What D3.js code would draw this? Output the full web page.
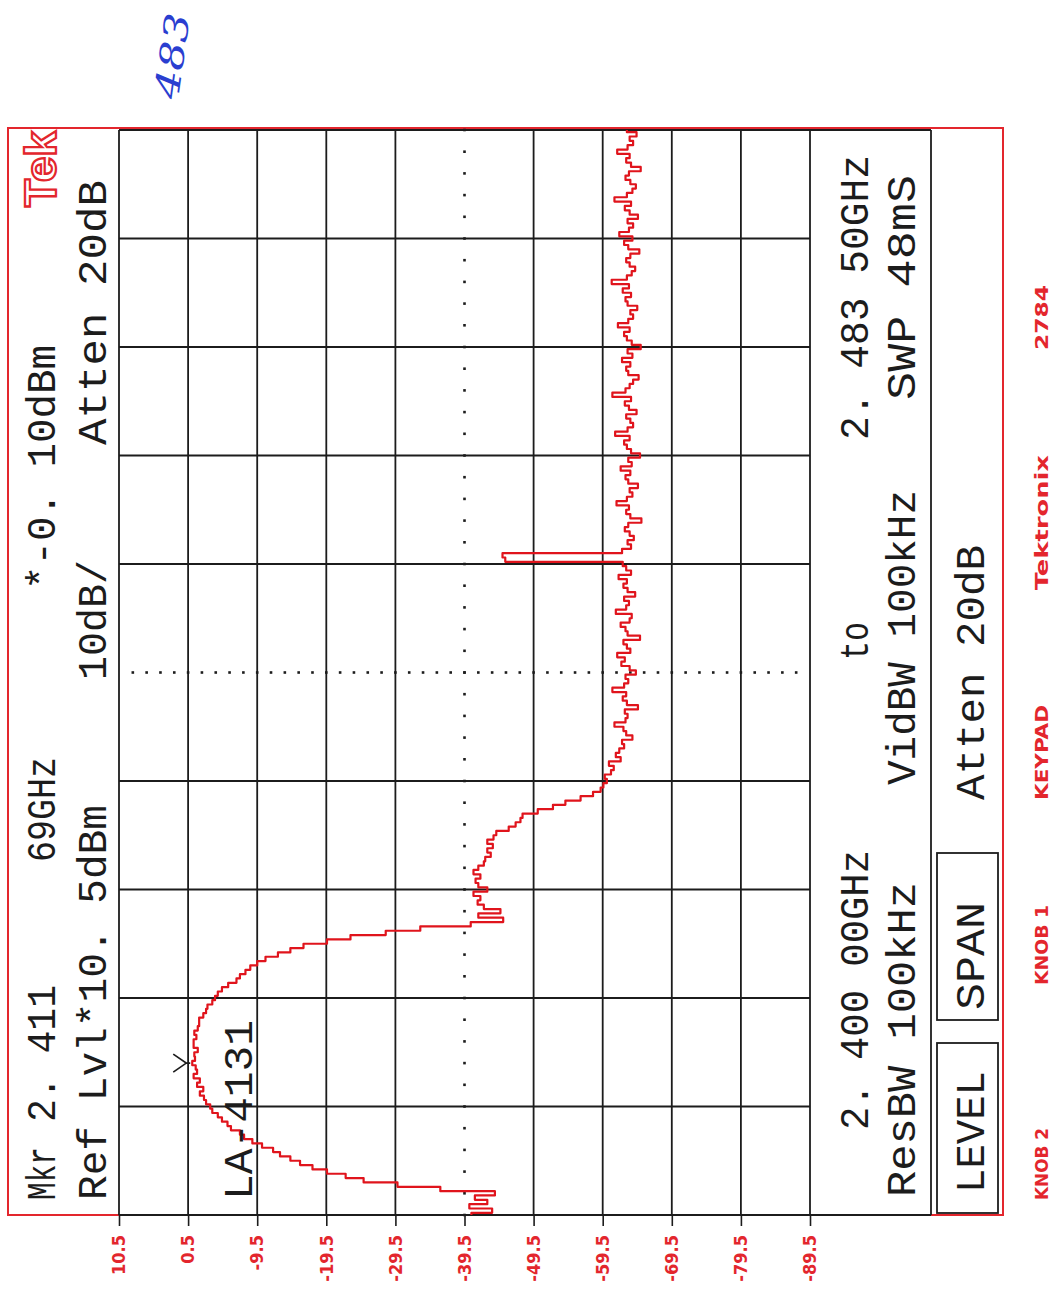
<!DOCTYPE html>
<html>
<head>
<meta charset="utf-8">
<script src="https://cdn.jsdelivr.net/npm/d3@7"></script>
<style>
  body { margin: 0; background: #fff; }
  svg { display: block; }
</style>
</head>
<body>
<script>
// Tektronix 2784 spectrum plot: 2.400 00 GHz to 2.483 50 GHz, Ref 10.5 dBm, 10 dB/div.
const sweepStartGHz = 2.400;
const sweepStopGHz = 2.4835;
const freqDivisions = 10;

const ampTicks = [10.5, 0.5, -9.5, -19.5, -29.5, -39.5, -49.5, -59.5, -69.5, -79.5, -89.5];
const ampTickLabels = ["10.5", "0.5", "-9.5", "-19.5", "-29.5", "-39.5", "-49.5", "-59.5", "-69.5", "-79.5", "-89.5"];

// Trace amplitude in dBm, one value per sweep point (251 points across the span)
const traceDbm = [
  -40.5, -43.5, -40.2, -42.8, -41.0, -43.9, -36.0, -29.8, -24.9, -22.3,
  -19.6, -17.5, -15.7, -14.3, -12.8, -11.8, -10.2, -8.8, -7.6, -7.0,
  -5.7, -5.2, -4.4, -3.8, -3.0, -2.7, -2.1, -1.8, -1.2, -1.7,
  -0.8, -1.2, -0.3, -0.8, -0.6, -0.1, -0.5, -0.4, -0.9, -0.3,
  -0.3, -0.7, -0.4, -0.9, -1.1, -1.1, -1.7, -2.1, -2.3, -3.0,
  -3.4, -3.8, -4.4, -5.3, -6.5, -7.0, -7.8, -8.5, -9.5, -10.7,
  -12.5, -14.3, -16.2, -19.6, -23.0, -28.1, -33.1, -40.4, -45.1, -41.5,
  -44.7, -42.3, -41.4, -41.8, -40.8, -42.8, -41.5, -41.1, -41.8, -40.8,
  -41.5, -42.3, -42.5, -43.3, -42.8, -43.6, -42.8, -43.7, -44.1, -45.9,
  -46.9, -47.6, -47.9, -50.1, -52.3, -54.1, -56.3, -58.1, -59.2, -59.6,
  -60.1, -59.8, -60.7, -61.1, -60.4, -62.1,
  -61.4, -61.9, -62.6, -62.3, -63.8, -62.9, -62.5, -61.2, -62.8, -63.1,
  -62.7, -64.6, -63.0, -62.4, -62.9, -60.9, -62.6, -63.2, -62.8, -64.3,
  -63.4, -62.2, -62.7, -61.6, -63.5, -63.0, -62.5, -64.9, -63.1, -62.8,
  -62.1, -63.4, -63.7, -61.4, -62.9, -63.3, -62.6, -64.2, -63.1, -62.5,
  -63.0, -61.8, -63.6, -62.9, -62.4,
  -45.4, -45.0,
  -62.3, -63.6, -63.1, -64.0, -63.4, -62.7, -63.2, -65.1, -63.5, -62.9,
  -63.3, -61.5, -63.0, -63.8, -63.4, -64.6, -63.2, -62.8, -63.5, -62.1,
  -63.7, -63.2, -64.9, -63.6, -63.0, -62.6, -63.4, -61.3, -63.1, -63.9,
  -63.5, -62.9, -64.4, -63.3, -62.7, -63.6, -60.9, -62.8, -63.4, -63.9,
  -64.7, -63.2, -62.9, -63.5, -62.3, -63.8, -63.1, -65.0, -63.7, -63.0,
  -62.6, -63.4, -61.7, -63.2, -63.9, -63.5, -64.5, -63.1, -62.8, -63.6,
  -62.4, -63.3, -60.8, -63.0, -63.7, -64.2, -63.4, -62.9, -63.5, -64.8,
  -63.2, -62.6, -63.8, -61.9, -63.3, -63.9, -63.1, -64.6, -63.4, -62.7,
  -63.6, -61.2, -63.0, -63.8, -64.3, -63.5, -62.8, -63.3, -65.0, -63.6,
  -62.9, -63.4, -61.6, -63.1, -63.9, -63.4, -64.4, -63.0
];

const markerFreqGHz = 2.41169;
const markerDbm = -0.10;

// Screen read-outs: [text, start along sweep axis, length]
const topRow1 = [["Mkr", 15, 53], ["2. 411", 93, 137], ["69GHz", 353, 105], ["*-0. 10dBm", 625, 245]];
const topRow2 = [["Ref Lvl*10. 5dBm", 15, 395], ["10dB/", 535, 120], ["Atten 20dB", 770, 265]];
const lowRow1 = [["2. 400 00GHz", 85, 280], ["to", 555, 38], ["2. 483 50GHz", 775, 285]];
const lowRow2 = [["ResBW 100kHz", 18, 315], ["VidBW 100kHz", 430, 295], ["SWP 48mS", 815, 225]];
const lowRow3 = [["LEVEL", 22, 122], ["SPAN", 205, 108], ["Atten 20dB", 415, 255]];
const softKeys = [[2, 170], [195, 167]];
const frontPanel = [["KNOB 2", 15, 72], ["KNOB 1", 230, 80], ["KEYPAD", 415, 95], ["Tektronix", 625, 135], ["2784", 865, 65]];

const W = 1052, H = 1290;
const RED = "#e3262d";
const TRACE = "#e0141c";
const INK = "#1c1c1c";
const MONO = "'Liberation Mono', 'DejaVu Sans Mono', monospace";
const NARROW = "'Liberation Sans Narrow', 'DejaVu Sans Condensed', 'Liberation Sans', sans-serif";

const svg = d3.select("body").append("svg")
  .attr("width", W).attr("height", H)
  .attr("viewBox", `0 0 ${W} ${H}`);

// The plot is printed sideways: sweep runs bottom-to-top, amplitude left-to-right.
const screen = svg.append("g").attr("transform", "translate(0,1215) rotate(-90)");

const freqScale = d3.scaleLinear().domain([sweepStartGHz, sweepStopGHz]).range([0, 1085]);
const ampScale = d3.scaleLinear().domain([10.5, -89.5]).range([119, 810]);

const freqStep = (sweepStopGHz - sweepStartGHz) / (traceDbm.length - 1);
const trace = traceDbm.map((dbm, i) => ({ f: sweepStartGHz + i * freqStep, dbm }));

const freqGrid = d3.range(freqDivisions + 1).map(k => sweepStartGHz + k * (sweepStopGHz - sweepStartGHz) / freqDivisions);
const centerFreq = freqGrid[freqDivisions / 2];
const centerAmp = ampTicks[5];

// Outer red frame
screen.append("rect")
  .attr("x", 0).attr("y", 8).attr("width", 1087).attr("height", 995)
  .attr("fill", "none").attr("stroke", RED).attr("stroke-width", 2);

// Graticule
const grid = screen.append("g").attr("stroke", INK).attr("stroke-width", 1.8);
grid.selectAll("line.f").data(freqGrid.filter(f => f !== centerFreq)).join("line")
  .attr("class", "f")
  .attr("x1", d => freqScale(d)).attr("x2", d => freqScale(d))
  .attr("y1", ampScale.range()[0]).attr("y2", ampScale.range()[1]);
grid.selectAll("line.a").data(ampTicks.filter(a => a !== centerAmp)).join("line")
  .attr("class", "a")
  .attr("x1", 0).attr("x2", 1085)
  .attr("y1", d => ampScale(d)).attr("y2", d => ampScale(d));
// Sweep-edge lines run across the read-out panel too
grid.selectAll("line.edge").data([0, 1085]).join("line")
  .attr("class", "edge")
  .attr("x1", d => d).attr("x2", d => d)
  .attr("y1", 119).attr("y2", 931);
grid.append("line").attr("x1", 0).attr("x2", 1085).attr("y1", 931).attr("y2", 931);

// Dotted centre lines, five dots per division
const centerDots = screen.append("g").attr("fill", INK);
const uDiv = freqScale(freqGrid[1]) - freqScale(freqGrid[0]);
const vDiv = ampScale(ampTicks[1]) - ampScale(ampTicks[0]);
d3.range(0, freqDivisions * 5 + 1).forEach(k => {
  centerDots.append("rect")
    .attr("x", k * uDiv / 5 - 1.3).attr("y", ampScale(centerAmp) - 1.3)
    .attr("width", 2.6).attr("height", 2.6);
});
d3.range(1, (ampTicks.length - 1) * 5).forEach(k => {
  centerDots.append("rect")
    .attr("x", freqScale(centerFreq) - 1.3).attr("y", ampScale.range()[0] + k * vDiv / 5 - 1.3)
    .attr("width", 2.6).attr("height", 2.6);
});

// Amplitude scale printed below the screen
const ampAxis = d3.axisLeft(ampScale)
  .tickValues(ampTicks)
  .tickFormat((d, i) => ampTickLabels[i])
  .tickSize(11).tickSizeOuter(0).tickPadding(9);
const axisG = screen.append("g").call(ampAxis);
axisG.select(".domain").remove();
axisG.selectAll(".tick line").attr("stroke", INK).attr("stroke-width", 1.6);
axisG.selectAll(".tick text")
  .attr("fill", RED)
  .attr("font-family", NARROW)
  .attr("font-weight", "bold")
  .attr("font-size", 18);

// Trace
const line = d3.line()
  .x(d => freqScale(d.f))
  .y(d => ampScale(d.dbm))
  .curve(d3.curveStep);
screen.append("path")
  .datum(trace)
  .attr("d", line)
  .attr("fill", "none")
  .attr("stroke", TRACE)
  .attr("stroke-width", 2.2)
  .attr("stroke-linejoin", "round");

// Marker
const mu = freqScale(markerFreqGHz), mv = ampScale(markerDbm);
screen.append("path")
  .attr("d", `M${mu - 9},${mv - 19} L${mu},${mv - 6} L${mu + 9},${mv - 19} M${mu},${mv - 6} L${mu},${mv - 2}`)
  .attr("fill", "none").attr("stroke", INK).attr("stroke-width", 1.7);

// Read-out text
function row(items, baseline, size, color, family, weight) {
  screen.append("g").selectAll("text").data(items).join("text")
    .attr("x", d => d[1]).attr("y", baseline)
    .attr("textLength", d => d[2]).attr("lengthAdjust", "spacingAndGlyphs")
    .attr("font-family", family).attr("font-size", size)
    .attr("font-weight", weight || "normal")
    .attr("fill", color)
    .text(d => d[0]);
}
row(topRow1, 55, 40, INK, MONO);
row(topRow2, 106, 40, INK, MONO);
row(lowRow1, 868, 40, INK, MONO);
row(lowRow2, 915, 40, INK, MONO);
row(lowRow3, 984, 40, INK, MONO);
row([["LA-4131", 15, 180]], 252, 40, INK, MONO);
row(frontPanel, 1048, 18, RED, NARROW, "bold");

// Soft-key boxes
screen.append("g").selectAll("rect").data(softKeys).join("rect")
  .attr("x", d => d[0]).attr("y", 937).attr("width", d => d[1]).attr("height", 61)
  .attr("fill", "none").attr("stroke", INK).attr("stroke-width", 1.8);

// Outlined "Tek" badge
screen.append("text")
  .attr("x", 1008).attr("y", 56)
  .attr("textLength", 76).attr("lengthAdjust", "spacingAndGlyphs")
  .attr("font-family", "'Liberation Sans', sans-serif").attr("font-weight", "bold")
  .attr("font-size", 44)
  .attr("fill", "#fff").attr("stroke", RED).attr("stroke-width", 2.2)
  .text("Tek");

// Hand-written sheet number
svg.append("text")
  .attr("transform", "translate(178,100) rotate(-82)")
  .attr("font-family", "'DejaVu Serif', serif").attr("font-style", "italic")
  .attr("font-size", 34).attr("fill", "#2a3ed0")
  .attr("textLength", 86).attr("lengthAdjust", "spacingAndGlyphs")
  .text("483");
</script>
</body>
</html>
